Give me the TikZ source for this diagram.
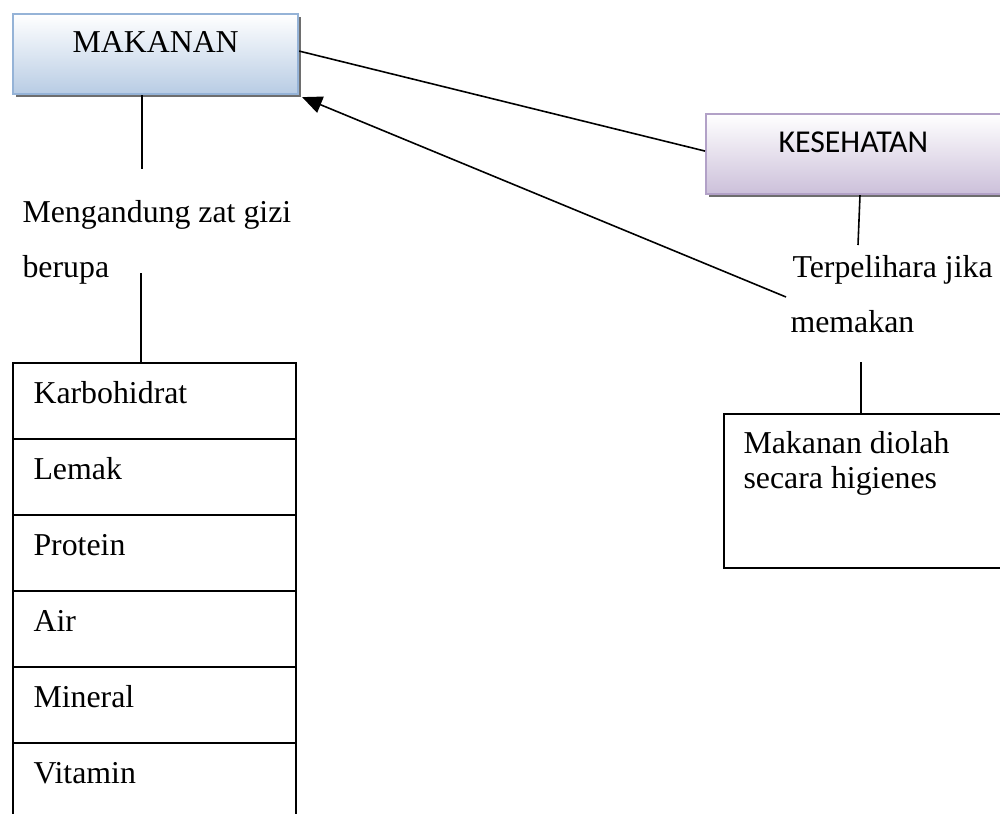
\documentclass[tikz,border=0pt]{standalone}
\usepackage{fontspec}
\setmainfont{Liberation Serif}
\newfontfamily\calfont{Carlito}
\usetikzlibrary{calc,arrows.meta}
\definecolor{makbot}{RGB}{184,204,228}
\definecolor{makbor}{RGB}{149,179,215}
\definecolor{kesbot}{RGB}{204,192,218}
\definecolor{kesbor}{RGB}{178,161,199}
\definecolor{shad}{RGB}{110,110,110}
\tikzset{
  txt/.style={anchor=base west,inner sep=0pt,font=\fontsize{12}{14}\selectfont},
  conn/.style={draw=black,line width=0.6pt},
  rowbox/.style={draw=black,line width=0.7pt,minimum width=283*0.377pt,minimum height=76*0.377pt,inner sep=0pt,anchor=north west},
  headbox/.style={inner sep=0pt,minimum height=80*0.377pt,anchor=north west,line width=0.8pt},
}
\begin{document}
\begin{tikzpicture}[x=0.377pt,y=-0.377pt]
\clip (0,0) rectangle (1000,814);
\useasboundingbox (0,0) rectangle (1000,814);
\fill[white] (0,0) rectangle (1000,814);
% shadows
\fill[shad] (16,17) rectangle (301,97);
\fill[shad] (709,117) rectangle (1010,197);
% MAKANAN
\node[headbox,minimum width=285*0.377pt,draw=makbor,top color=white,bottom color=makbot] (mak) at (12,13) {};
\node[txt] (makt) at (72,53) {MAKANAN};
% KESEHATAN
\node[headbox,minimum width=300*0.377pt,draw=kesbor,top color=white,bottom color=kesbot] (kes) at (705,113) {};
\node[txt,font=\calfont\fontsize{12}{14}\selectfont] (kest) at (778,153) {KESEHATAN};
% connector MAKANAN - KESEHATAN
\draw[conn] ($(mak.east)+(0,-3)$) -- ($(kes.west)+(0,-3)$);
% left branch
\coordinate (c1) at ($(mak.south west)!0.453!(mak.south east)+(0,74)$);
\draw[conn] ($(mak.south west)!0.453!(mak.south east)$) -- (c1);
\node[txt] (meng) at (22,222) {Mengandung zat gizi};
\node[txt] (ber) at (22,277) {berupa};
\node[rowbox] (r1) at (12,362) {};
\node[rowbox] (r2) at (12,438) {};
\node[rowbox] (r3) at (12,514) {};
\node[rowbox] (r4) at (12,590) {};
\node[rowbox] (r5) at (12,666) {};
\node[rowbox] (r6) at (12,742) {};
\node[txt] (t1) at ($(r1.north west)+(21,41)$) {Karbohidrat};
\node[txt] (t2) at ($(r2.north west)+(21,41)$) {Lemak};
\node[txt] (t3) at ($(r3.north west)+(21,41)$) {Protein};
\node[txt] (t4) at ($(r4.north west)+(21,41)$) {Air};
\node[txt] (t5) at ($(r5.north west)+(21,41)$) {Mineral};
\node[txt] (t6) at ($(r6.north west)+(21,41)$) {Vitamin};
\coordinate (c2) at (141,273);
\draw[conn] (c2) -- (r1.north west -| c2);
% right branch
\coordinate (c3) at (858,245);
\draw[conn] ($(kes.south west)+(155,0)$) -- (c3);
\node[txt] (terp) at (792,277) {Terpelihara jika};
\node[txt] (mem) at (790,332) {memakan};
\node[draw=black,line width=0.7pt,minimum width=290*0.377pt,minimum height=154*0.377pt,inner sep=0pt,anchor=north west] (mdb) at (723,413) {};
\node[txt] (mdt1) at (743,453) {Makanan diolah};
\node[txt] (mdt2) at (743,488) {secara higienes};
\coordinate (c4) at (861,362);
\draw[conn] (c4) -- (mdb.north west -| c4);
% arrow
\coordinate (c5) at (786,297);
\draw[conn,-{Triangle[length=7.5pt,width=6.5pt]}] (c5) -- ($(mak.south east)+(3,2)$);
\end{tikzpicture}
\end{document}
